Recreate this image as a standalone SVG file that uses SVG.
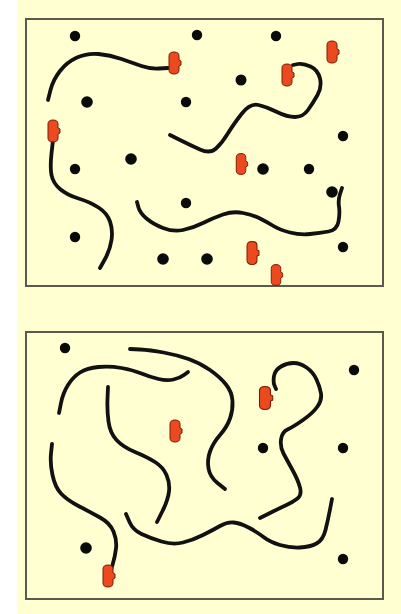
<svg xmlns="http://www.w3.org/2000/svg" xmlns:xlink="http://www.w3.org/1999/xlink" width="401" height="614" viewBox="0 0 401 614">
<style>
.panel{fill:#ffffd2}
.frame{fill:none;stroke:#5a5a4e;stroke-width:2}
.str{fill:none;stroke:#111;stroke-width:3.8;stroke-linecap:round;stroke-linejoin:round}
.dot{fill:#0a0a0a}
</style>
<defs>
<g id="pill">
<path d="M-5,-7 Q-5,-11 0,-11 Q5,-11 5,-7 L5,-3 L7,-2 L7,2 L5,3 L5,7 Q5,11 0,11 Q-5,11 -5,7 Z" fill="#ea4a1e" stroke="#7a1a08" stroke-width="1"/>
</g>
</defs>
<rect x="0" y="0" width="401" height="614" fill="#ffffff"/>
<rect class="panel" x="17" y="0" width="384" height="614"/>
<g id="top-panel">
<rect class="frame" x="26" y="19" width="357" height="267"/>
<g id="top-strings">
<path class="str" d="M48,100 L50.5,90 Q53,80 60,71 Q67,62 77,57.5 Q87,53 98.5,54 Q110,55 121.5,59 Q133,63 141.5,66 Q150,69 159,68.5 L168,68"/>
<path class="str" d="M53,140 L51.5,153.5 Q50,167 51.5,175 Q53,183 60,189 Q67,195 78.5,198.5 Q90,202 98.5,207.5 Q107,213 110,221.5 Q113,230 111.5,240 Q110,250 105,259 L100,268"/>
<path class="str" d="M170,135 L180,140 Q190,145 200,149.5 Q210,154 216,148.5 Q222,143 227.5,134 Q233,125 241.5,114 Q250,103 258.5,105 Q267,107 277,112 Q287,117 295,117 Q303,117 308,110 Q313,103 317.5,95 Q322,87 320,78.5 Q318,70 310.5,66.5 Q303,63 298,64 L293,65"/>
<path class="str" d="M137,202 L138.5,207.5 Q140,213 146.5,218.5 Q153,224 163,228 Q173,232 183,230 Q193,228 203,223 Q213,218 223,214.5 Q233,211 243,213 Q253,215 260,218.5 Q267,222 273.5,226 Q280,230 290,232.5 Q300,235 310,234 Q320,233 328.5,231.5 Q337,230 338.5,221.5 Q340,213 339,206.5 Q338,200 340,194 L342,188"/>
</g>
<g id="top-dots">
<circle class="dot" cx="75" cy="36" r="5.2"/>
<circle class="dot" cx="197" cy="35" r="5.2"/>
<circle class="dot" cx="276" cy="36" r="5.2"/>
<circle class="dot" cx="241" cy="80" r="5.5"/>
<circle class="dot" cx="87" cy="102" r="5.8"/>
<circle class="dot" cx="186" cy="102" r="5.2"/>
<circle class="dot" cx="343" cy="136" r="5.2"/>
<circle class="dot" cx="131" cy="159" r="5.8"/>
<circle class="dot" cx="75" cy="169" r="5.2"/>
<circle class="dot" cx="263" cy="169" r="5.8"/>
<circle class="dot" cx="309" cy="169" r="5.2"/>
<circle class="dot" cx="332" cy="192" r="5.8"/>
<circle class="dot" cx="186" cy="203" r="5.2"/>
<circle class="dot" cx="75" cy="237" r="5.2"/>
<circle class="dot" cx="163" cy="259" r="5.8"/>
<circle class="dot" cx="207" cy="259" r="5.8"/>
<circle class="dot" cx="343" cy="247" r="5.2"/>
</g>
<g id="top-pills">
<use xlink:href="#pill" href="#pill" transform="translate(174,63)"/>
<use xlink:href="#pill" href="#pill" transform="translate(332,52)"/>
<use xlink:href="#pill" href="#pill" transform="translate(287,75)"/>
<use xlink:href="#pill" href="#pill" transform="translate(53,131)"/>
<use xlink:href="#pill" href="#pill" transform="translate(241,164) scale(0.95)"/>
<use xlink:href="#pill" href="#pill" transform="translate(252,253) scale(1,1.05)"/>
<use xlink:href="#pill" href="#pill" transform="translate(276,275) scale(0.95)"/>
</g>
</g>
<g id="bottom-panel">
<rect class="frame" x="26" y="332" width="357" height="267"/>
<g id="bottom-strings">
<path class="str" d="M130,349 L140,349.5 Q150,350 163.5,352.5 Q177,355 188.5,359 Q200,363 210,370 Q220,377 226,384.5 Q232,392 232.5,401 Q233,410 230,418.5 Q227,427 220,435 Q213,443 210,451.5 Q207,460 208.5,468.5 Q210,477 217.5,483 L225,489"/>
<path class="str" d="M59,413 L61,403 Q63,393 68,385 Q73,377 80,372.5 Q87,368 98.5,367 Q110,366 121.5,368 Q133,370 141.5,373.5 Q150,377 158.5,379 Q167,381 173.5,379.5 Q180,378 184,375 L188,372"/>
<path class="str" d="M108,387 L107.5,398.5 Q107,410 108.5,421.5 Q110,433 116.5,440 Q123,447 135,452 Q147,457 155,462 Q163,467 166.5,475 Q170,483 169,491.5 Q168,500 162.5,511 L157,522"/>
<path class="str" d="M52,444 L51,453.5 Q50,463 52.5,475 Q55,487 61,493.5 Q67,500 78.5,506 Q90,512 100,517.5 Q110,523 113.5,531.5 Q117,540 116,548.5 Q115,557 112.5,565 L110,573"/>
<path class="str" d="M126,514 L129.5,522 Q133,530 141.5,534 Q150,538 161.5,541.5 Q173,545 183,542.5 Q193,540 203,535 Q213,530 220,526 Q227,522 233.5,522.5 Q240,523 248.5,527.5 Q257,532 263.5,537 Q270,542 280,545 Q290,548 300,547.5 Q310,547 316.5,543.5 Q323,540 325.5,530 Q328,520 330,509.5 L332,499"/>
<path class="str" d="M276,389 L274.5,385.5 Q273,382 274,376 Q275,370 281,366.5 Q287,363 293.5,363 Q300,363 306.5,367.5 Q313,372 316.5,379.5 Q320,387 321,393.5 Q322,400 317.5,406.5 Q313,413 303,420 Q293,427 287.5,429.5 Q282,432 281,439.5 Q280,447 283.5,453.5 Q287,460 292.5,470 Q298,480 300,487.5 Q302,495 297.5,498.5 Q293,502 286.5,505 Q280,508 270,513 L260,518"/>
</g>
<g id="bottom-dots">
<circle class="dot" cx="65" cy="348" r="5.2"/>
<circle class="dot" cx="354" cy="370" r="5.2"/>
<circle class="dot" cx="263" cy="448" r="5.2"/>
<circle class="dot" cx="343" cy="448" r="5.2"/>
<circle class="dot" cx="86" cy="548" r="5.8"/>
<circle class="dot" cx="343" cy="559" r="5.2"/>
</g>
<g id="bottom-pills">
<use xlink:href="#pill" href="#pill" transform="translate(175,431)"/>
<use xlink:href="#pill" href="#pill" transform="translate(265,398) scale(1.1,1.05)"/>
<use xlink:href="#pill" href="#pill" transform="translate(108,576)"/>
</g>
</g>
</svg>
